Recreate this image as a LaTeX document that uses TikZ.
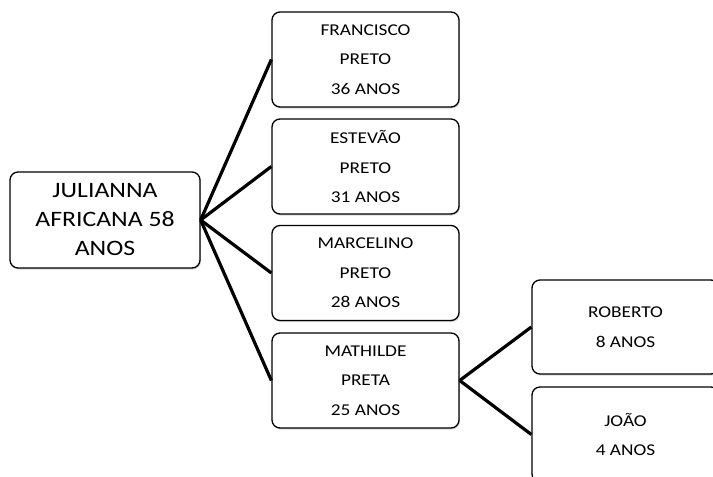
\documentclass[tikz,border=0pt]{standalone}
\usepackage{fontspec}
\setmainfont{Carlito}[FakeStretch=1.17]
\usetikzlibrary{shadows}

\tikzset{
  person/.style={draw, line width=1.3pt, rounded corners=8pt, fill=white,
    align=center, inner sep=0pt, minimum width=187pt, minimum height=95pt,
    font=\fontsize{16.5}{29.5}\selectfont,
    drop shadow={opacity=0.3, shadow xshift=1pt, shadow yshift=-1.5pt}},
  link/.style={line width=3.2pt},
}

\begin{document}
\begin{tikzpicture}[x=1pt, y=-1pt]
\clip (0,0) rectangle (713,477);
\fill [white] (0,0) rectangle (713,477);
% The mother
\node [person, minimum width=190pt, minimum height=96pt,
  font=\fontsize{22}{29}\selectfont] (julianna) at (105,220)
  {JULIANNA\\AFRICANA 58\\ANOS};
% Her children, one box each
\foreach \name/\y/\first/\last/\age in {
  francisco/59.5/FRANCISCO/PRETO/36,
  estevao/166.5/ESTEVÃO/PRETO/31,
  marcelino/273/MARCELINO/PRETO/28,
  mathilde/380.5/MATHILDE/PRETA/25} {
  \node [person] (\name) at (365.5,\y) {\first\\\last\\\age{} ANOS};
  \draw [link] (julianna.east) -- (\name.west);
}
% The grandchildren
\node [person, minimum height=94pt] (roberto) at (625.5,327) {ROBERTO\\8 ANOS};
\node [person] (joao) at (625.5,434.5) {JOÃO\\4 ANOS};
\draw [link] (mathilde.east) -- (roberto.west);
\draw [link] (mathilde.east) -- (joao.west);
\end{tikzpicture}
\end{document}
